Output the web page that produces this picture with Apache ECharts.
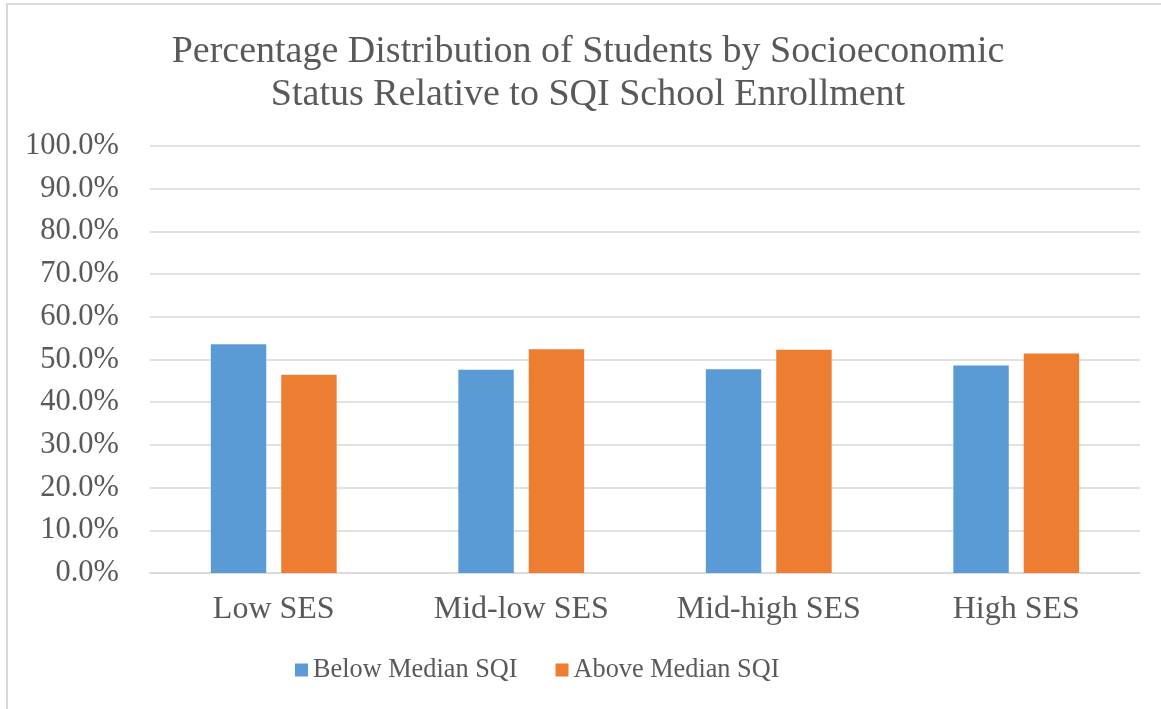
<!DOCTYPE html>
<html>
<head>
<meta charset="utf-8">
<script src="https://cdn.jsdelivr.net/npm/echarts@6/dist/echarts.min.js"></script>
<style>
  html, body { margin: 0; padding: 0; background: #ffffff; }
  #chart { width: 1161px; height: 709px; }
</style>
</head>
<body>
<div id="chart"></div>
<script>
// Share of students in each SES group, split by school SQI
const categories = ['Low SES', 'Mid-low SES', 'Mid-high SES', 'High SES'];
const belowMedian = [53.6, 47.6, 47.7, 48.6];
const aboveMedian = [46.4, 52.4, 52.3, 51.4];
const seriesNames = ['Below Median SQI', 'Above Median SQI'];

const textColor = '#595959';
const serif = '"Liberation Serif", "Times New Roman", serif';

const chart = echarts.init(document.getElementById('chart'));
chart.setOption({
  backgroundColor: '#ffffff',
  animation: false,
  title: {
    text: 'Percentage Distribution of Students by Socioeconomic\nStatus Relative to SQI School Enrollment',
    left: 588,
    top: 31,
    padding: 0,
    textAlign: 'center',
    textStyle: {
      fontFamily: serif,
      fontWeight: 'normal',
      fontSize: 38,
      lineHeight: 43,
      color: textColor
    }
  },
  legend: {
    data: seriesNames,
    left: 295,
    top: 657,
    padding: 0,
    icon: 'rect',
    itemWidth: 13,
    itemHeight: 13,
    itemGap: 38,
    textStyle: {
      fontFamily: serif,
      fontSize: 26.3,
      color: textColor
    }
  },
  grid: {
    left: 150,
    right: 21,
    top: 146,
    bottom: 136,
    containLabel: false
  },
  xAxis: {
    type: 'category',
    data: categories,
    axisLine: { show: true, lineStyle: { color: '#d9d9d9', width: 1.5 } },
    axisTick: { show: false },
    axisLabel: {
      fontFamily: serif,
      fontSize: 32,
      color: textColor,
      margin: 21
    }
  },
  yAxis: {
    type: 'value',
    min: 0,
    max: 100,
    interval: 10,
    axisLine: { show: false },
    axisTick: { show: false },
    splitLine: { lineStyle: { color: '#d9d9d9', width: 1.5 } },
    axisLabel: {
      fontFamily: serif,
      fontSize: 30.5,
      color: textColor,
      margin: 31,
      formatter: v => v.toFixed(1) + '%'
    }
  },
  series: [
    {
      name: seriesNames[0],
      type: 'bar',
      data: belowMedian,
      barWidth: '22.4%',
      barGap: '27%',
      itemStyle: { color: '#5b9bd5' }
    },
    {
      name: seriesNames[1],
      type: 'bar',
      data: aboveMedian,
      barWidth: '22.4%',
      itemStyle: { color: '#ed7d31' }
    }
  ],
  graphic: [
    {
      type: 'rect',
      shape: { x: 7, y: 4, width: 1170, height: 720 },
      style: { fill: 'none', stroke: '#d9d9d9', lineWidth: 2 },
      silent: true,
      z: -1
    }
  ]
});
</script>
</body>
</html>
